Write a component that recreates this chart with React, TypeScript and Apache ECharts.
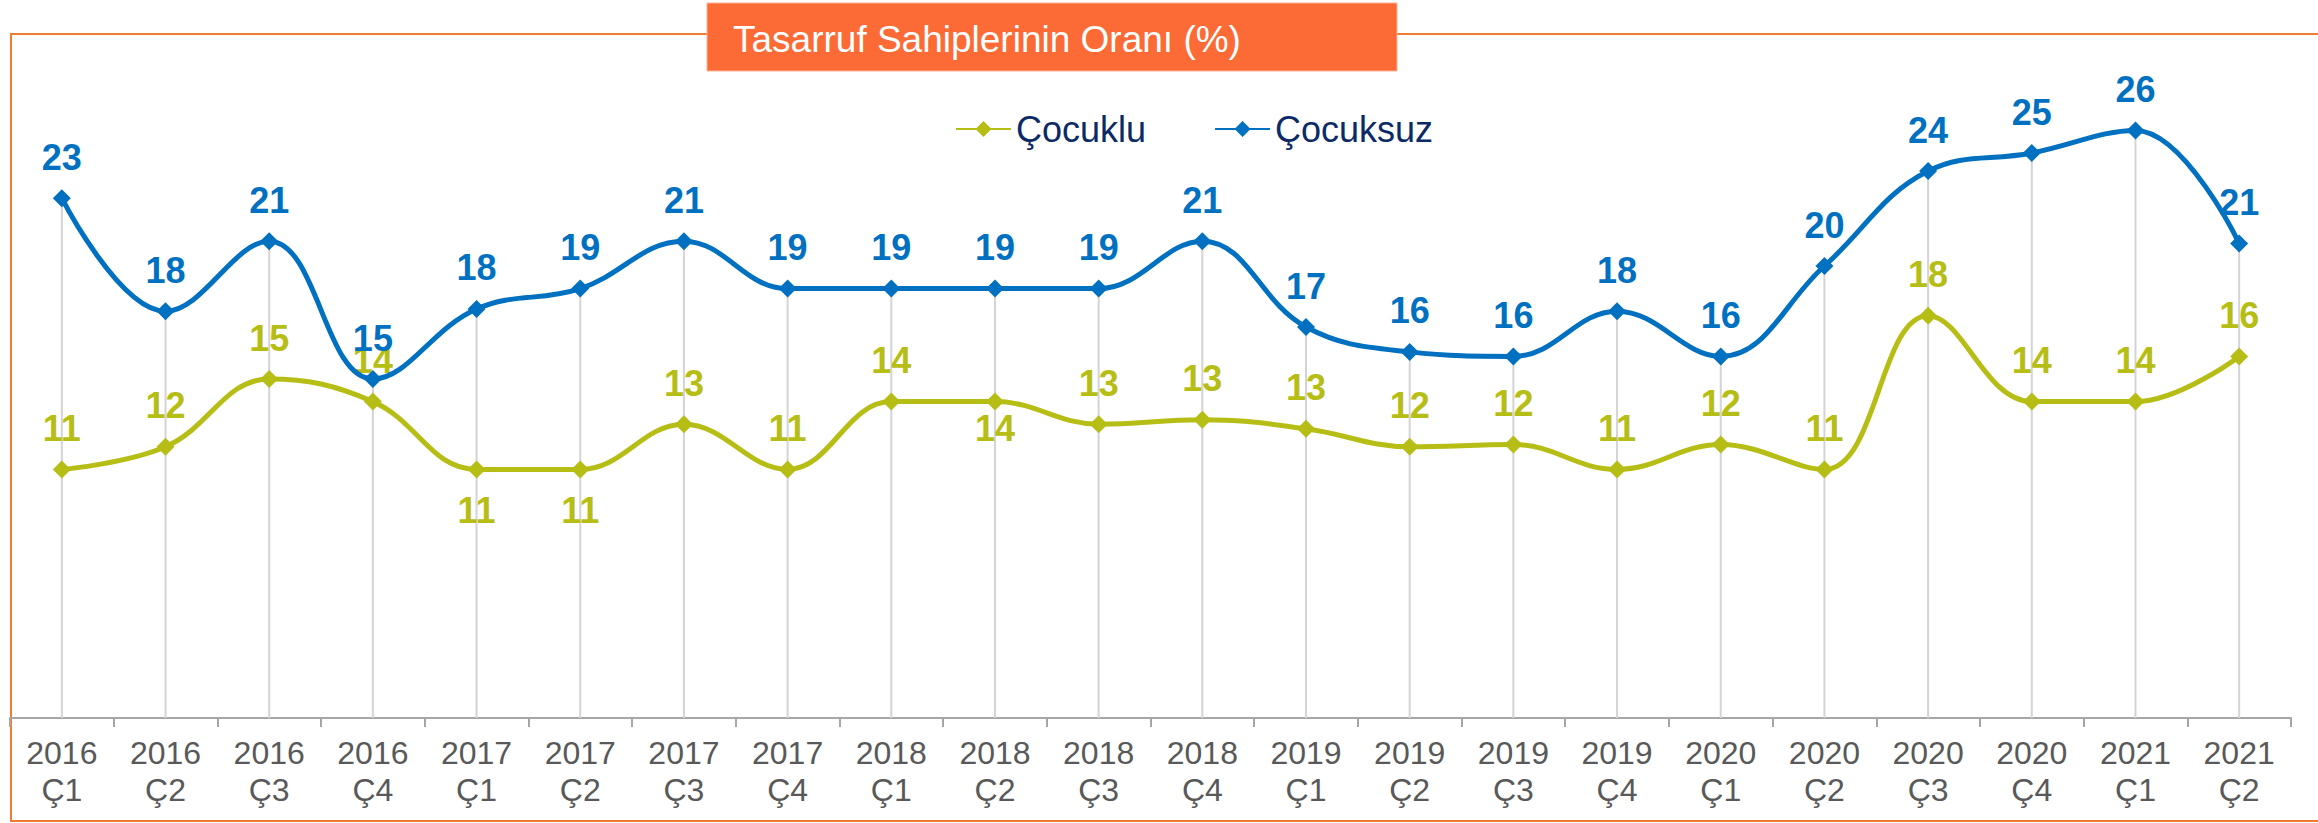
import React, { useEffect, useRef } from "react";
import * as echarts from "echarts";

const categories = [
  "2016\nÇ1", "2016\nÇ2", "2016\nÇ3", "2016\nÇ4",
  "2017\nÇ1", "2017\nÇ2", "2017\nÇ3", "2017\nÇ4",
  "2018\nÇ1", "2018\nÇ2", "2018\nÇ3", "2018\nÇ4",
  "2019\nÇ1", "2019\nÇ2", "2019\nÇ3", "2019\nÇ4",
  "2020\nÇ1", "2020\nÇ2", "2020\nÇ3", "2020\nÇ4",
  "2021\nÇ1", "2021\nÇ2",
];

const cocuklu = [
  11.0, 12.0, 15.0, 14.0, 11.0, 11.0, 13.0, 11.0, 14.0, 14.0, 13.0,
  13.2, 12.8, 12.0, 12.1, 11.0, 12.1, 11.0, 17.8, 14.0, 14.0, 16.0,
];

const cocuksuz = [
  23.0, 18.0, 21.1, 15.0, 18.1, 19.0, 21.1, 19.0, 19.0, 19.0, 19.0,
  21.1, 17.3, 16.2, 16.0, 18.0, 16.0, 20.0, 24.2, 25.0, 26.0, 21.0,
];

const seriesNames = ["Çocuklu", "Çocuksuz"];
const titleText = "Tasarruf Sahiplerinin Oranı (%)";

// indices whose Çocuklu label sits below the point
const cocukluBelow = [4, 5, 9];

const GREEN = "#B6BE16";
const BLUE = "#0070C0";
const FONT = "'Liberation Sans', Arial, sans-serif";

export default function App() {
  const ref = useRef<HTMLDivElement>(null);

  useEffect(() => {
    if (!ref.current) return;
    const chart = echarts.init(ref.current, null, { renderer: "svg" });

    const labelBase = {
      show: true,
      position: "top",
      distance: 14,
      fontSize: 36,
      fontWeight: "bold",
      fontFamily: FONT,
      formatter: (p: any) => String(Math.round(p.value)),
    };

    const dropLines = cocuksuz.map((v, i) => Math.max(v, cocuklu[i]));

    chart.setOption({
      animation: false,
      backgroundColor: "#ffffff",
      grid: { left: 10, right: 27, top: 40, bottom: 105 },
      legend: {
        data: seriesNames,
        left: 950,
        top: 106,
        itemWidth: 55,
        itemHeight: 20,
        itemGap: 68,
        textStyle: { fontSize: 36, color: "#0B2A66", fontFamily: FONT },
      },
      xAxis: {
        type: "category",
        data: categories,
        boundaryGap: true,
        axisLine: { show: true, lineStyle: { color: "#A6A6A6", width: 2 } },
        axisTick: { show: true, length: 9, lineStyle: { color: "#A6A6A6", width: 2 } },
        splitLine: { show: false },
        axisLabel: {
          interval: 0,
          margin: 16,
          fontSize: 32,
          lineHeight: 37,
          color: "#595959",
          fontFamily: FONT,
        },
      },
      yAxis: {
        type: "value",
        min: 0,
        max: 30,
        show: false,
        splitLine: { show: false },
      },
      graphic: [
        {
          type: "rect",
          z: 0,
          shape: { x: 11, y: 34, width: 2400, height: 787 },
          style: { fill: "none", stroke: "#ED7D31", lineWidth: 2 },
          silent: true,
        },
        {
          type: "rect",
          z: 10,
          shape: { x: 707, y: 3, width: 690, height: 68 },
          style: { fill: "#FC6A35", stroke: "#FBB396", lineWidth: 1 },
          silent: true,
        },
        {
          type: "text",
          z: 11,
          x: 733,
          y: 39,
          style: {
            text: titleText,
            fill: "#ffffff",
            fontSize: 37,
            fontFamily: FONT,
            verticalAlign: "middle",
          },
          silent: true,
        },
      ],
      series: [
        {
          name: "drop",
          type: "bar",
          data: dropLines,
          barWidth: 2,
          silent: true,
          z: 1,
          itemStyle: { color: "#D4D4D4" },
          label: { show: false },
        },
        {
          name: seriesNames[0],
          type: "line",
          z: 3,
          data: cocuklu.map((v, i) =>
            cocukluBelow.includes(i)
              ? { value: v, label: { position: "bottom", distance: i === 9 ? 0 : 14 } }
              : v
          ),
          smooth: 0.4,
          symbol: "diamond",
          symbolSize: 18,
          lineStyle: { color: GREEN, width: 5 },
          itemStyle: { color: GREEN },
          label: { ...labelBase, color: GREEN },
        },
        {
          name: seriesNames[1],
          type: "line",
          z: 4,
          data: cocuksuz,
          smooth: 0.4,
          symbol: "diamond",
          symbolSize: 18,
          lineStyle: { color: BLUE, width: 5 },
          itemStyle: { color: BLUE },
          label: { ...labelBase, color: BLUE },
        },
      ],
    });

    return () => chart.dispose();
  }, []);

  return (
    <div
      ref={ref}
      style={{ position: "absolute", left: 0, top: 0, width: 2318, height: 823 }}
    />
  );
}
